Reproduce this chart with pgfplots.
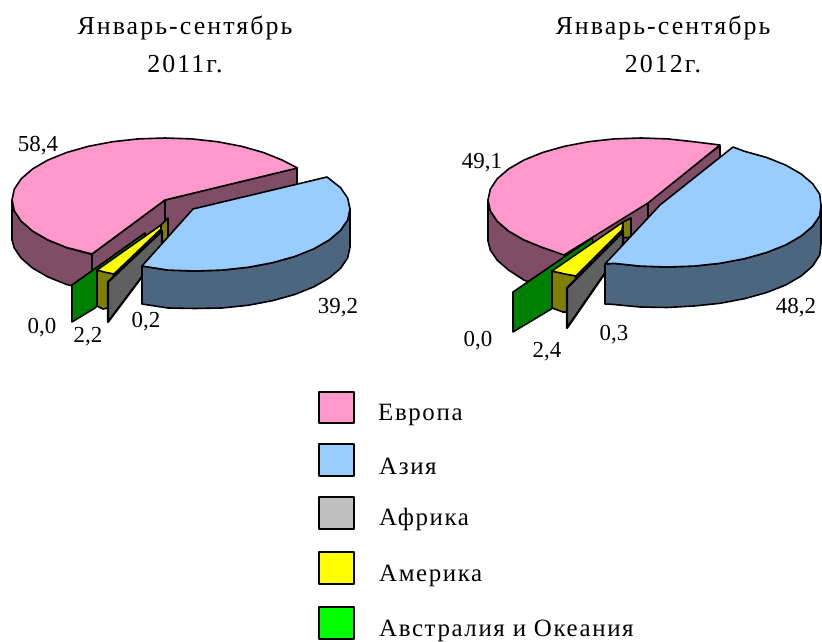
\documentclass[border=0pt]{standalone}
\usepackage{fontspec}
\setmainfont{Liberation Serif}
\newfontfamily\spacedT[LetterSpace=8]{Liberation Serif}
\newfontfamily\spacedL[LetterSpace=6.5]{Liberation Serif}
\usepackage{pgfplots}
\pgfplotsset{compat=1.18}
\definecolor{pinkT}{HTML}{FF99CC}
\definecolor{pinkS}{HTML}{804D66}
\definecolor{blueT}{HTML}{99CCFF}
\definecolor{blueS}{HTML}{4D6680}
\definecolor{greyT}{HTML}{C0C0C0}
\definecolor{greyS}{HTML}{606060}
\definecolor{yelT}{HTML}{FFFF00}
\definecolor{yelS}{HTML}{808000}
\definecolor{greS}{HTML}{008000}
\definecolor{greT}{HTML}{00FF00}
\begin{document}
\begin{tikzpicture}
\begin{axis}[
  scale only axis, width=822bp, height=641bp,
  xmin=0, xmax=822, ymin=0, ymax=641, y dir=reverse,
  hide axis, clip=false,
  every axis plot/.append style={draw=black, line width=1.6pt, line join=round, mark=none},
]
\path (axis cs:0,0) rectangle (axis cs:822,641);
% ---------- 2011 ----------
\addplot[fill=pinkS] coordinates {(92,254)(165,200)(297,168)(297,205)(165,237)(92,291)} -- cycle;
\addplot[fill=pinkS] coordinates {(12,200)(12,240)(14.3,248)(21.2,258.2)(32.5,268)(47.8,276.9)(66.6,284.5)(92,291)(92,254)(88.5,253.7)(66.6,247.5)(47.8,239.9)(32.5,231)(21.2,221.2)(14.3,210.8)} -- cycle;
\addplot[draw=black] coordinates {(165,200)(165,222)};
\addplot[draw=black] coordinates {(92,254)(92,272)};
\addplot[fill=pinkT] coordinates {(165,200)(297.5,168)(282.2,160.1)(263.4,152.5)(241.5,146.3)(217.3,141.7)(191.6,138.9)(165,138)(138.4,138.9)(112.7,141.7)(88.5,146.3)(66.6,152.5)(47.8,160.1)(32.5,169)(21.2,178.8)(14.3,189.2)(12,200)(14.3,210.8)(21.2,221.2)(32.5,231)(47.8,239.9)(66.6,247.5)(92,254)} -- cycle;
\addplot[fill=greS] coordinates {(72,285)(145,233)(147,250)(95,308)(72,322)} -- cycle;
\addplot[fill=yelS] coordinates {(160,226)(168,218)(168,238)(160,246)} -- cycle;
\addplot[fill=yelS] coordinates {(97,270)(97,306)(103,309)(108,308)(114,272)} -- cycle;
\addplot[fill=yelT] coordinates {(161,225)(97,270)(104,272)(114,274)(161,229)} -- cycle;
\addplot[fill=greyS, line width=2.2pt] coordinates {(108,282)(162,231)(162,250)(108,322)} -- cycle;
\addplot[fill=blueS] coordinates {(350,209)(350,247)(347.7,257.8)(340.7,268.2)(329.2,278)(313.7,286.9)(294.7,294.5)(272.5,300.7)(248,305.3)(222,308)(195,308.5)(168,308)(142,304)(142,266)(168,270.1)(195,271)(222,270.1)(248,267.3)(272.5,262.7)(294.7,256.5)(313.7,248.9)(329.2,240)(340.7,230.2)(347.7,219.8)} -- cycle;
\addplot[fill=blueT] coordinates {(193,209)(327,177)(340.7,187.8)(347.7,198.2)(350,209)(347.7,219.8)(340.7,230.2)(329.2,240)(313.7,248.9)(294.7,256.5)(272.5,262.7)(248,267.3)(222,270.1)(195,271)(168,270.1)(142,266)} -- cycle;
% ---------- 2012 ----------
\addplot[fill=pinkS] coordinates {(720,146)(720,185)(648,240)(564,293)(564,254)} -- cycle;
\addplot[fill=pinkS] coordinates {(488,200)(488,241)(490.3,250)(497.2,260.2)(508.5,270)(523.8,280)(542.6,287)(564,293)(564.5,253.7)(542.6,247.5)(523.8,239.9)(508.5,231)(497.2,221.2)(490.3,210.8)} -- cycle;
\addplot[draw=black] coordinates {(648,203)(648,220)};
\addplot[fill=pinkT] coordinates {(648,203)(720,145)(693.3,141.7)(667.6,138.9)(641,138)(614.4,138.9)(588.7,141.7)(564.5,146.3)(542.6,152.5)(523.8,160.1)(508.5,169)(497.2,178.8)(490.3,189.2)(488,200)(490.3,210.8)(497.2,221.2)(508.5,231)(523.8,239.9)(542.6,247.5)(564,255)} -- cycle;
\addplot[fill=greS] coordinates {(513,292)(592,238)(594,246)(553,308)(513,332)} -- cycle;
\addplot[fill=yelS] coordinates {(623,222)(631,218)(631,237)(623,238)} -- cycle;
\addplot[fill=yelS] coordinates {(552,271)(552,308)(563,312)(568,312)(576,276)} -- cycle;
\addplot[fill=yelT] coordinates {(623,222)(552,271)(565,274)(576,276)(622,230)} -- cycle;
\addplot[fill=greyS, line width=2.2pt] coordinates {(567,288)(623,232)(623,247)(567,328)} -- cycle;
\addplot[fill=blueS] coordinates {(821,205)(821,244)(819.7,255)(812.7,266)(801.2,276)(785.7,285)(766.7,292.5)(744.5,298.7)(720,303.3)(694,306)(667,307.5)(640,307)(614,304.5)(605,304)(605,264)(614,263.3)(640,266.1)(667,267)(694,266.1)(720,263.3)(744.5,258.7)(766.7,252.5)(785.7,244.9)(801.2,236)(812.7,226.2)(819.7,215.8)} -- cycle;
\addplot[fill=blueT] coordinates {(660,205)(733,147)(744.5,151.3)(766.7,157.5)(785.7,165.1)(801.2,174)(812.7,183.8)(819.7,194.2)(821,205)(819.7,215.8)(812.7,226.2)(801.2,236)(785.7,244.9)(766.7,252.5)(744.5,258.7)(720,263.3)(694,266.1)(667,267)(640,266.1)(614,263.3)(605,264)} -- cycle;
% ---------- legend swatches ----------
\addplot[fill=pinkT] coordinates {(319,392)(354,392)(354,423)(319,423)} -- cycle;
\addplot[fill=blueT] coordinates {(319,444)(354,444)(354,476)(319,476)} -- cycle;
\addplot[fill=greyT] coordinates {(319,497)(354,497)(354,529)(319,529)} -- cycle;
\addplot[fill=yelT] coordinates {(319,552)(354,552)(354,584)(319,584)} -- cycle;
\addplot[fill=greT] coordinates {(319,607)(354,607)(354,639)(319,639)} -- cycle;
% ---------- text ----------
\def\fs{\fontsize{23}{27}\selectfont}
\def\ft{\fontsize{26}{30}\selectfont}
\def\fl{\fontsize{25}{29}\selectfont}
\node[anchor=base,font=\ft\spacedT] at (axis cs:185,35) {Январь-сентябрь};
\node[anchor=base,font=\ft\spacedT] at (axis cs:185,73) {2011г.};
\node[anchor=base,font=\ft\spacedT] at (axis cs:663,35) {Январь-сентябрь};
\node[anchor=base,font=\ft\spacedT] at (axis cs:663,73) {2012г.};
\node[anchor=base,font=\fs] at (axis cs:38,152) {58,4};
\node[anchor=base,font=\fs] at (axis cs:338,313) {39,2};
\node[anchor=base,font=\fs] at (axis cs:42,333) {0,0};
\node[anchor=base,font=\fs] at (axis cs:88,342) {2,2};
\node[anchor=base,font=\fs] at (axis cs:146,327) {0,2};
\node[anchor=base,font=\fs] at (axis cs:482,169) {49,1};
\node[anchor=base,font=\fs] at (axis cs:796,313) {48,2};
\node[anchor=base,font=\fs] at (axis cs:478,346) {0,0};
\node[anchor=base,font=\fs] at (axis cs:547,357) {2,4};
\node[anchor=base,font=\fs] at (axis cs:614,340) {0,3};
\node[anchor=base west,inner sep=0pt,font=\fl\spacedL] at (axis cs:378,420) {Европа};
\node[anchor=base west,inner sep=0pt,font=\fl\spacedL] at (axis cs:379,474) {Азия};
\node[anchor=base west,inner sep=0pt,font=\fl\spacedL] at (axis cs:379,525) {Африка};
\node[anchor=base west,inner sep=0pt,font=\fl\spacedL] at (axis cs:379,581) {Америка};
\node[anchor=base west,inner sep=0pt,font=\fl\spacedL] at (axis cs:379,636) {Австралия и Океания};
\end{axis}
\end{tikzpicture}
\end{document}
